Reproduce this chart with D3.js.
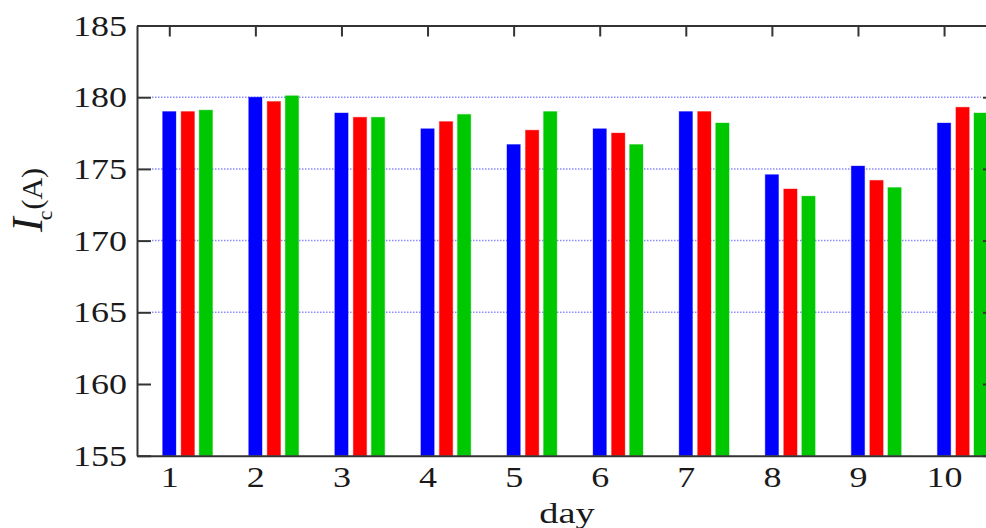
<!DOCTYPE html>
<html><head><meta charset="utf-8">
<script src="https://cdn.jsdelivr.net/npm/d3@7/dist/d3.min.js"></script>
<style>
html,body{margin:0;padding:0;background:#fff;overflow:hidden;}
svg{display:block;}
</style></head>
<body>
<svg id="chart" width="986" height="528"></svg>
<script>
const days = [1,2,3,4,5,6,7,8,9,10];
const blueValues  = [179.0, 180.0, 178.9, 177.8, 176.7, 177.8, 179.0, 174.6, 175.2, 178.2];
const redValues   = [179.0, 179.7, 178.6, 178.3, 177.7, 177.5, 179.0, 173.6, 174.2, 179.3];
const greenValues = [179.1, 180.1, 178.6, 178.8, 179.0, 176.7, 178.2, 173.1, 173.7, 178.9];
const yTicks = [155,160,165,170,175,180,185];
const gridValues = [165,170,175,180];
const seriesColors = ["#0000ff","#ff0000","#00c800"];
const seriesOffsets = [0, 0.215, 0.425];

const svg = d3.select("#chart");
const x = d3.scaleLinear().domain([0.625, 10.615]).range([137, 997]);
const y = d3.scaleLinear().domain([155, 185]).range([455.7, 25.5]);
const barW = x(0.155) - x(0);
const SX = 1.2;
const font = "'Liberation Serif','Times New Roman',serif";
const axisColor = "#333";

// grid
svg.append("g").selectAll("line").data(gridValues).join("line")
  .attr("x1", 152).attr("x2", 981)
  .attr("y1", d => y(d)).attr("y2", d => y(d))
  .attr("stroke", "#8a8aff").attr("stroke-width", 1.5)
  .attr("stroke-dasharray", "1.5,1.5");

// bars
const series = [blueValues, redValues, greenValues];
series.forEach((vals, si) => {
  svg.append("g").selectAll("rect").data(days).join("rect")
    .attr("x", (d) => x(d + seriesOffsets[si]) - barW/2)
    .attr("width", barW)
    .attr("y", (d, i) => y(vals[i]))
    .attr("height", (d, i) => y(155) - y(vals[i]))
    .attr("fill", seriesColors[si])
    .attr("stroke", seriesColors[si]).attr("stroke-opacity", 0.35).attr("stroke-width", 1);
});

function styleAxis(g){
  g.select(".domain").attr("stroke", axisColor).attr("stroke-width", 2);
  g.selectAll(".tick line").attr("stroke", axisColor).attr("stroke-width", 2);
}

// left axis
const gl = svg.append("g").attr("transform", "translate(137,0)")
  .call(d3.axisLeft(y).tickValues(yTicks).tickSizeInner(-14).tickSizeOuter(0).tickPadding(10).tickFormat(d3.format("d")));
styleAxis(gl);
gl.selectAll(".tick text")
  .attr("x", -10 / SX).attr("transform", `scale(${SX},1)`)
  .attr("font-family", font).attr("font-size", 30).attr("fill", "#1a1a1a");

// right axis
const gr = svg.append("g").attr("transform", "translate(997,0)")
  .call(d3.axisRight(y).tickValues(yTicks).tickSizeInner(-14).tickSizeOuter(0).tickFormat(""));
styleAxis(gr);

// bottom axis
const gb = svg.append("g").attr("transform", `translate(0,${y(155)})`)
  .call(d3.axisBottom(x).tickValues(days).tickSizeInner(-14).tickSizeOuter(0).tickPadding(10).tickFormat(d3.format("d")));
styleAxis(gb);
gb.selectAll(".tick line").remove();
gb.selectAll(".tick text")
  .attr("transform", `scale(${SX},1)`)
  .attr("font-family", font).attr("font-size", 30).attr("fill", "#1a1a1a");

// top axis
const gt = svg.append("g").attr("transform", `translate(0,${y(185)})`)
  .call(d3.axisTop(x).tickValues(days).tickSizeInner(-11).tickSizeOuter(0).tickFormat(""));
styleAxis(gt);

// x label
svg.append("text")
  .attr("transform", `translate(567,523) scale(1.28,1)`)
  .attr("text-anchor", "middle")
  .attr("font-family", font).attr("font-size", 30).attr("fill", "#1a1a1a")
  .text("day");

// y label
const yl = svg.append("text")
  .attr("transform", "translate(42,232) rotate(-90)")
  .attr("font-family", font).attr("fill", "#1a1a1a");
yl.append("tspan").attr("font-size", 44).attr("font-style", "italic").text("I");
yl.append("tspan").attr("font-size", 22).attr("dy", 10).attr("dx", -3).text("c");
yl.append("tspan").attr("font-size", 30).attr("dy", -10).attr("dx", 1).text("(A)");
</script>
</body></html>
